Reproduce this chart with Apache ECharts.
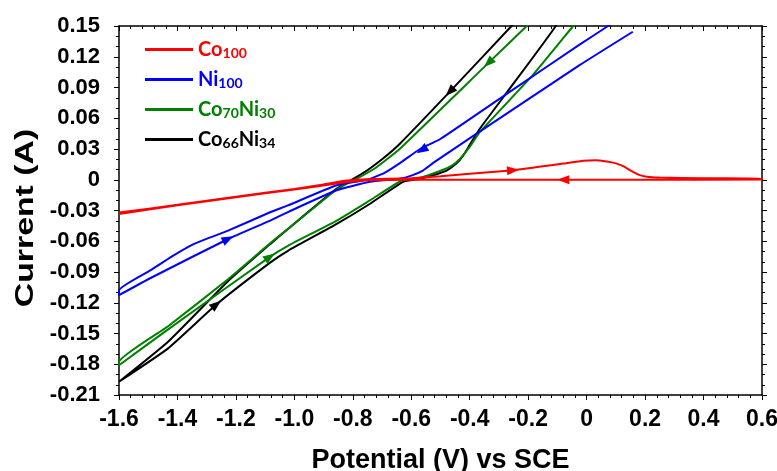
<!DOCTYPE html>
<html>
<head>
<meta charset="utf-8">
<script src="https://cdn.jsdelivr.net/npm/echarts@6/dist/echarts.min.js"></script>
<style>
  html, body { margin: 0; padding: 0; background: #fff; }
  #chart { width: 777px; height: 471px; }
</style>
</head>
<body>
<div id="chart"></div>
<script>
// tick labels
const xTickLabels = ['-1.6', '-1.4', '-1.2', '-1.0', '-0.8', '-0.6', '-0.4', '-0.2', '0', '0.2', '0.4', '0.6'];
const yTickLabels = ['-0.21', '-0.18', '-0.15', '-0.12', '-0.09', '-0.06', '-0.03', '0', '0.03', '0.06', '0.09', '0.12', '0.15'];

const seriesNames = ['Co100', 'Ni100', 'Co70Ni30', 'Co66Ni34'];

// [potential V, current A], scan order
const co100 = [
  [-1.6, -0.032], [-1.4, -0.0245], [-1.2, -0.0165], [-1.0, -0.009], [-0.9, -0.0045],
  [-0.82, -0.0008], [-0.75, 0.0005], [-0.6, 0.0015], [-0.5, 0.0034], [-0.4, 0.0058],
  [-0.25, 0.0093], [-0.15, 0.0131], [-0.08, 0.0158], [-0.011, 0.0185], [0.03, 0.019],
  [0.069, 0.0178], [0.1, 0.016], [0.125, 0.0132], [0.148, 0.0093], [0.177, 0.005], [0.206, 0.003],
  [0.25, 0.0022], [0.4, 0.0015], [0.6, 0.0012],
  [0.6, 0.0002], [0.2, 0.0], [-0.2, 0.0], [-0.6, 0.0], [-0.75, -0.0005], [-0.85, -0.0035],
  [-1.0, -0.0095], [-1.2, -0.017], [-1.4, -0.025], [-1.6, -0.0335]
];
const ni100 = [
  [0.16, 0.167], [0.073, 0.15], [-0.023, 0.132], [-0.252, 0.088], [-0.502, 0.0395],
  [-0.57, 0.030], [-0.63, 0.018], [-0.69, 0.007], [-0.75, 0.0], [-0.855, -0.0054], [-1.022, -0.025],
  [-1.083, -0.0317], [-1.227, -0.0497], [-1.29, -0.0565], [-1.35, -0.0635], [-1.42, -0.075],
  [-1.49, -0.088], [-1.6, -0.108],
  [-1.6, -0.1126], [-1.49, -0.0956], [-1.227, -0.0578], [-1.083, -0.0398], [-1.022, -0.0315],
  [-0.855, -0.0103], [-0.741, -0.002], [-0.64, 0.001], [-0.6, 0.004], [-0.56, 0.009], [-0.525, 0.0165],
  [-0.393, 0.0418], [-0.023, 0.112], [0.158, 0.1444]
];
const co70ni30 = [
  [-0.15, 0.166], [-0.205, 0.15], [-0.336, 0.114], [-0.639, 0.0303], [-0.72, 0.012],
  [-0.78, 0.002], [-0.855, -0.0095], [-1.022, -0.048], [-1.083, -0.062], [-1.227, -0.097],
  [-1.432, -0.143], [-1.6, -0.178],
  [-1.6, -0.181], [-1.432, -0.146], [-1.084, -0.0752], [-1.022, -0.0644], [-0.855, -0.0398],
  [-0.741, -0.02], [-0.628, 0.0], [-0.57, 0.002], [-0.502, 0.0085], [-0.46, 0.014], [-0.433, 0.0205],
  [-0.40, 0.032], [-0.365, 0.0467], [-0.183, 0.1025], [-0.046, 0.15], [0.0, 0.166]
];
const co66ni34 = [
  [-0.2, 0.167], [-0.257, 0.15], [-0.468, 0.086], [-0.639, 0.0352], [-0.70, 0.02], [-0.765, 0.0064],
  [-0.855, -0.0087], [-1.022, -0.048], [-1.083, -0.0628], [-1.227, -0.099], [-1.432, -0.158],
  [-1.6, -0.197],
  [-1.432, -0.1645], [-1.267, -0.1218], [-1.083, -0.0809], [-1.022, -0.0693], [-0.855, -0.0431],
  [-0.741, -0.0234], [-0.628, -0.002], [-0.57, 0.001], [-0.526, 0.0044], [-0.479, 0.009],
  [-0.445, 0.016], [-0.422, 0.0238], [-0.40, 0.034], [-0.365, 0.05], [-0.262, 0.0893],
  [-0.108, 0.149], [-0.08, 0.167]
];

// scan direction arrows: [potential, current, rotation deg]
const co100Arrows = [[-0.252, 0.0093, -86], [-0.08, 0.0, 90]];
const ni100Arrows = [[-0.564, 0.029, 122], [-1.227, -0.0578, -64]];
const co70ni30Arrows = [[-0.336, 0.114, 134], [-1.084, -0.0752, -55]];
const co66ni34Arrows = [[-0.468, 0.086, 136], [-1.267, -0.1218, -51]];

const colors = ['#ff0000', '#0000ff', '#008000', '#000000'];
const dataSets = [co100, ni100, co70ni30, co66ni34];
const arrowSets = [co100Arrows, ni100Arrows, co70ni30Arrows, co66ni34Arrows];
const zOrder = [5, 4, 3, 2];

const chart = echarts.init(document.getElementById('chart'));

const labelFont = { fontFamily: 'Liberation Sans', fontWeight: 'bold', fontSize: 22, color: '#000' };

const series = seriesNames.map((name, i) => ({
  name: name,
  type: 'line',
  data: dataSets[i],
  showSymbol: false,
  smooth: 0.15,
  clip: true,
  z: zOrder[i],
  color: colors[i],
  lineStyle: { width: 2, color: colors[i] },
  markPoint: {
    silent: true,
    label: { show: false },
    data: arrowSets[i].map(a => ({
      coord: [a[0], a[1]],
      symbol: 'triangle',
      symbolSize: [9, 12],
      symbolRotate: a[2],
      itemStyle: { color: colors[i] }
    }))
  }
}));

const legendLabel = name => {
  const m = name.match(/[A-Za-z]+|\d+/g);
  return m.map(p => /\d/.test(p) ? '{s|' + p + '}' : '{b|' + p + '}').join('');
};

const option = {
  animation: false,
  backgroundColor: '#fff',
  grid: { left: 119, right: 15, top: 26, bottom: 76, outerBoundsMode: 'none' },
  legend: {
    orient: 'vertical',
    left: 140,
    top: 34,
    itemWidth: 48,
    itemHeight: 3,
    itemGap: 9,
    icon: 'rect',
    selectedMode: false,
    data: seriesNames.map((n, i) => ({ name: n, textStyle: { color: colors[i] } })),
    formatter: legendLabel,
    textStyle: {
      rich: {
        b: { fontFamily: 'Lato', fontWeight: 'bold', fontSize: 20, lineHeight: 20 },
        s: { fontFamily: 'Lato', fontWeight: 'bold', fontSize: 14, lineHeight: 20, padding: [7, 0, 0, 0] }
      }
    }
  },
  graphic: [{
    type: 'text',
    x: 26,
    y: 218,
    rotation: Math.PI / 2,
    scaleX: 1.3,
    style: {
      text: 'Current (A)',
      font: 'bold 26px "Liberation Sans"',
      fill: '#000',
      align: 'center',
      verticalAlign: 'middle'
    }
  }],
  xAxis: [{
    type: 'value',
    min: -1.6, max: 0.6, interval: 0.2,
    name: 'Potential (V) vs SCE',
    nameLocation: 'middle',
    nameGap: 52,
    nameTextStyle: { fontFamily: 'Liberation Sans', fontWeight: 'bold', fontSize: 27, color: '#000' },
    axisLine: { onZero: false, lineStyle: { color: '#000', width: 1.5 } },
    axisTick: { inside: false, length: 5, lineStyle: { color: '#000' } },
    minorTick: { show: true, splitNumber: 5, length: 3, lineStyle: { color: '#000' } },
    splitLine: { show: false },
    axisLabel: Object.assign({ margin: 13, formatter: (v, i) => xTickLabels[i] }, labelFont, { fontSize: 23 })
  }, {
    type: 'value',
    position: 'top',
    min: -1.6, max: 0.6, interval: 0.2,
    axisLine: { onZero: false, lineStyle: { color: '#000', width: 1.5 } },
    axisTick: { inside: true, length: 5, lineStyle: { color: '#000' } },
    minorTick: { show: true, splitNumber: 5, length: 3, lineStyle: { color: '#000' } },
    splitLine: { show: false },
    axisLabel: { show: false }
  }],
  yAxis: [{
    type: 'value',
    min: -0.21, max: 0.15, interval: 0.03,
    axisLine: { onZero: false, lineStyle: { color: '#000', width: 1.5 } },
    axisTick: { inside: false, length: 5, lineStyle: { color: '#000' } },
    minorTick: { show: true, splitNumber: 3, length: 3, lineStyle: { color: '#000' } },
    splitLine: { show: false },
    axisLabel: Object.assign({ margin: 19, formatter: (v, i) => yTickLabels[i] }, labelFont)
  }, {
    type: 'value',
    position: 'right',
    min: -0.21, max: 0.15, interval: 0.03,
    axisLine: { onZero: false, lineStyle: { color: '#000', width: 1.5 } },
    axisTick: { inside: false, length: 5, lineStyle: { color: '#000' } },
    minorTick: { show: true, splitNumber: 3, length: 3, lineStyle: { color: '#000' } },
    splitLine: { show: false },
    axisLabel: { show: false }
  }],
  series: series
};

chart.setOption(option);
</script>
</body>
</html>
